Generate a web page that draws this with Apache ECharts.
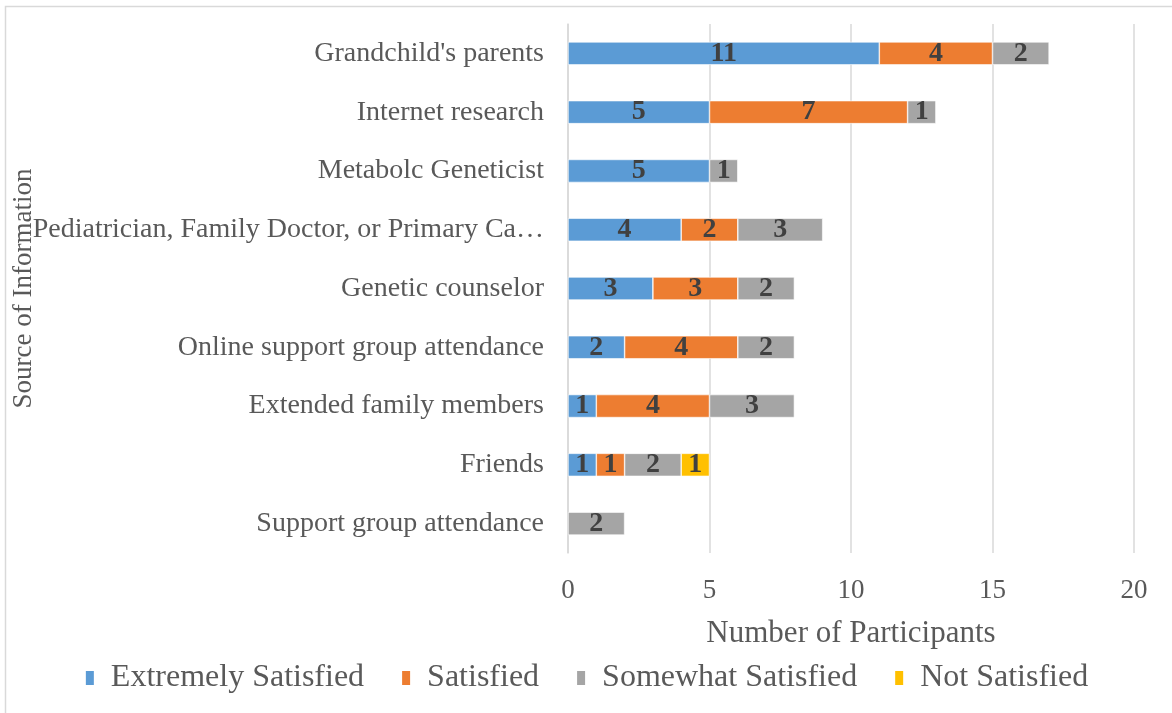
<!DOCTYPE html>
<html><head><meta charset="utf-8">
<script src="https://cdn.jsdelivr.net/npm/echarts@6/dist/echarts.min.js"></script>
<style>html,body{margin:0;padding:0;background:#fff;}#c{width:1172px;height:713px;}</style>
</head><body><div id="c"></div>
<script>
const categories = ["Support group attendance","Friends","Extended family members","Online support group attendance","Genetic counselor","Pediatrician, Family Doctor, or Primary Care Provider","Metabolc Geneticist","Internet research","Grandchild's parents"];
const seriesNames = ["Extremely Satisfied","Satisfied","Somewhat Satisfied","Not Satisfied"];
const extremelySatisfied = [0,1,1,2,3,4,5,5,11];
const satisfied = [0,1,4,4,3,2,0,7,4];
const somewhatSatisfied = [2,2,3,2,2,3,1,1,2];
const notSatisfied = [0,1,0,0,0,0,0,0,0];
const xTicks = [0,5,10,15,20];
const colors = ["#5B9BD5","#ED7D31","#A5A5A5","#FFC000"];
const serif = "'Liberation Serif','Times New Roman',serif";
const values = [extremelySatisfied, satisfied, somewhatSatisfied, notSatisfied];
const chart = echarts.init(document.getElementById('c'));
chart.setOption({
  animation:false,
  color: colors,
  graphic:[{type:'rect',shape:{x:5.5,y:6.5,width:1180,height:720},style:{fill:'none',stroke:'#D9D9D9',lineWidth:1.5},silent:true}],
  grid:{left:568,right:38,top:24,bottom:160,containLabel:false,outerBoundsMode:'none'},
  legend:{bottom:14,left:'center',itemWidth:10,itemHeight:16,itemGap:36,icon:'rect',
    textStyle:{fontFamily:serif,fontSize:32,color:'#595959',padding:[0,0,0,11]},
    data:seriesNames},
  xAxis:{type:'value',min:xTicks[0],max:xTicks[xTicks.length-1],interval:5,
    name:'Number of Participants',nameLocation:'middle',nameGap:65,nameMoveOverlap:false,
    nameTextStyle:{fontFamily:serif,fontSize:31,color:'#595959'},
    axisLine:{show:false},axisTick:{show:false},
    axisLabel:{fontFamily:serif,fontSize:27,color:'#595959',margin:24},
    splitLine:{lineStyle:{color:'#D9D9D9',width:1.5}}},
  yAxis:{type:'category',data:categories,
    name:'Source of Information',nameLocation:'middle',nameGap:531,nameRotate:90,nameMoveOverlap:false,
    nameTextStyle:{fontFamily:serif,fontSize:27,color:'#595959'},
    axisLine:{lineStyle:{color:'#D9D9D9',width:1.5}},axisTick:{show:false},
    axisLabel:{fontFamily:serif,fontSize:28,color:'#595959',margin:24,width:518,overflow:'truncate',ellipsis:'…'}},
  series: seriesNames.map((n,i)=>({
    name:n,type:'bar',stack:'total',barWidth:23,
    data: values[i].map(v=>v===0?null:v),
    itemStyle:{color:colors[i],borderColor:'#fff',borderWidth:0.6},
    label:{show:true,position:'inside',fontFamily:serif,fontWeight:'bold',fontSize:28,color:'#404040'}
  }))
});
</script></body></html>
